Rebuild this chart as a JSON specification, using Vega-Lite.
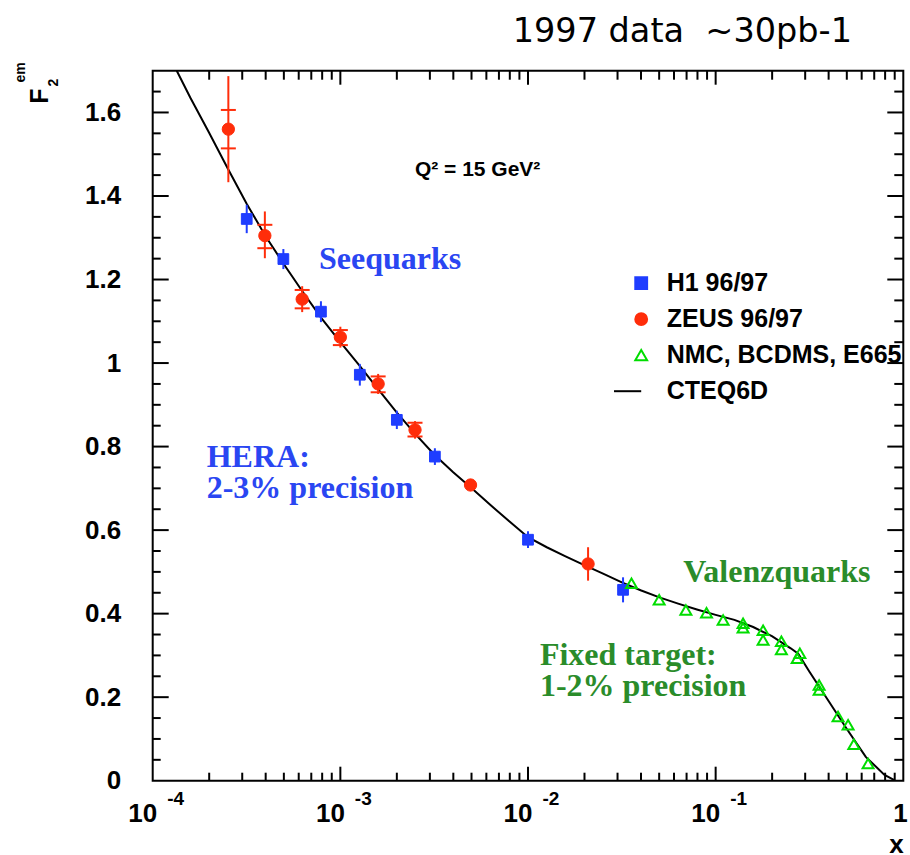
{
  "$schema": "https://vega.github.io/schema/vega-lite/v6.json",
  "width": 750.6,
  "height": 710,
  "autosize": {"type": "none"},
  "padding": {"left": 152.7, "top": 70.7, "right": 6.7, "bottom": 74.3},
  "background": "white",
  "title": {
    "text": "1997 data\u00a0 ~30pb-1",
    "anchor": "start",
    "frame": "group",
    "dx": 360,
    "offset": 12,
    "font": "DejaVu Sans",
    "fontSize": 33.5,
    "fontWeight": "normal",
    "color": "black"
  },
  "datasets": {
    "xticks": [
      {"x": 0.0002, "kind": "minor"}, {"x": 0.0003, "kind": "minor"}, {"x": 0.0004, "kind": "minor"},
      {"x": 0.0005, "kind": "minor"}, {"x": 0.0006, "kind": "minor"}, {"x": 0.0007, "kind": "minor"},
      {"x": 0.0008, "kind": "minor"}, {"x": 0.0009, "kind": "minor"}, {"x": 0.001, "kind": "major"},
      {"x": 0.002, "kind": "minor"}, {"x": 0.003, "kind": "minor"}, {"x": 0.004, "kind": "minor"},
      {"x": 0.005, "kind": "minor"}, {"x": 0.006, "kind": "minor"}, {"x": 0.007, "kind": "minor"},
      {"x": 0.008, "kind": "minor"}, {"x": 0.009, "kind": "minor"}, {"x": 0.01, "kind": "major"},
      {"x": 0.02, "kind": "minor"}, {"x": 0.03, "kind": "minor"}, {"x": 0.04, "kind": "minor"},
      {"x": 0.05, "kind": "minor"}, {"x": 0.06, "kind": "minor"}, {"x": 0.07, "kind": "minor"},
      {"x": 0.08, "kind": "minor"}, {"x": 0.09, "kind": "minor"}, {"x": 0.1, "kind": "major"},
      {"x": 0.2, "kind": "minor"}, {"x": 0.3, "kind": "minor"}, {"x": 0.4, "kind": "minor"},
      {"x": 0.5, "kind": "minor"}, {"x": 0.6, "kind": "minor"}, {"x": 0.7, "kind": "minor"},
      {"x": 0.8, "kind": "minor"}, {"x": 0.9, "kind": "minor"}
    ],
    "yticks": [
      {"f2": 0.05, "kind": "minor"}, {"f2": 0.1, "kind": "minor"}, {"f2": 0.15, "kind": "minor"}, {"f2": 0.2, "kind": "major"},
      {"f2": 0.25, "kind": "minor"}, {"f2": 0.3, "kind": "minor"}, {"f2": 0.35, "kind": "minor"}, {"f2": 0.4, "kind": "major"},
      {"f2": 0.45, "kind": "minor"}, {"f2": 0.5, "kind": "minor"}, {"f2": 0.55, "kind": "minor"}, {"f2": 0.6, "kind": "major"},
      {"f2": 0.65, "kind": "minor"}, {"f2": 0.7, "kind": "minor"}, {"f2": 0.75, "kind": "minor"}, {"f2": 0.8, "kind": "major"},
      {"f2": 0.85, "kind": "minor"}, {"f2": 0.9, "kind": "minor"}, {"f2": 0.95, "kind": "minor"}, {"f2": 1.0, "kind": "major"},
      {"f2": 1.05, "kind": "minor"}, {"f2": 1.1, "kind": "minor"}, {"f2": 1.15, "kind": "minor"}, {"f2": 1.2, "kind": "major"},
      {"f2": 1.25, "kind": "minor"}, {"f2": 1.3, "kind": "minor"}, {"f2": 1.35, "kind": "minor"}, {"f2": 1.4, "kind": "major"},
      {"f2": 1.45, "kind": "minor"}, {"f2": 1.5, "kind": "minor"}, {"f2": 1.55, "kind": "minor"}, {"f2": 1.6, "kind": "major"},
      {"f2": 1.65, "kind": "minor"}
    ],
    "cteq": [
      {"x": 0.0001343, "f2": 1.700},
      {"x": 0.0001585, "f2": 1.636},
      {"x": 0.0001995, "f2": 1.552},
      {"x": 0.0002512, "f2": 1.466},
      {"x": 0.0003162, "f2": 1.382},
      {"x": 0.0003981, "f2": 1.305},
      {"x": 0.0005012, "f2": 1.236},
      {"x": 0.000631, "f2": 1.170},
      {"x": 0.0007943, "f2": 1.107},
      {"x": 0.001, "f2": 1.050},
      {"x": 0.001259, "f2": 0.995},
      {"x": 0.001585, "f2": 0.938},
      {"x": 0.001995, "f2": 0.882},
      {"x": 0.002512, "f2": 0.830},
      {"x": 0.003162, "f2": 0.781},
      {"x": 0.003981, "f2": 0.739},
      {"x": 0.005012, "f2": 0.700},
      {"x": 0.00631, "f2": 0.660},
      {"x": 0.007943, "f2": 0.621},
      {"x": 0.01, "f2": 0.583},
      {"x": 0.01259, "f2": 0.559},
      {"x": 0.01585, "f2": 0.537},
      {"x": 0.01995, "f2": 0.516},
      {"x": 0.02512, "f2": 0.496},
      {"x": 0.03162, "f2": 0.475},
      {"x": 0.03981, "f2": 0.456},
      {"x": 0.05012, "f2": 0.439},
      {"x": 0.0631, "f2": 0.424},
      {"x": 0.07943, "f2": 0.410},
      {"x": 0.1, "f2": 0.397},
      {"x": 0.1259, "f2": 0.385},
      {"x": 0.1585, "f2": 0.368},
      {"x": 0.1995, "f2": 0.346},
      {"x": 0.2512, "f2": 0.317},
      {"x": 0.2754, "f2": 0.304},
      {"x": 0.3162, "f2": 0.261},
      {"x": 0.3981, "f2": 0.192},
      {"x": 0.5012, "f2": 0.123},
      {"x": 0.631, "f2": 0.057},
      {"x": 0.7943, "f2": 0.014},
      {"x": 0.891, "f2": 0.002}
    ],
    "h1": [
      {"x": 0.000317, "f2": 1.345, "lo": 1.311, "hi": 1.379},
      {"x": 0.000497, "f2": 1.249, "lo": 1.225, "hi": 1.273},
      {"x": 0.000788, "f2": 1.123, "lo": 1.098, "hi": 1.148},
      {"x": 0.00127, "f2": 0.972, "lo": 0.946, "hi": 0.998},
      {"x": 0.0020, "f2": 0.864, "lo": 0.842, "hi": 0.886},
      {"x": 0.00319, "f2": 0.776, "lo": 0.756, "hi": 0.796},
      {"x": 0.0100, "f2": 0.577, "lo": 0.557, "hi": 0.597},
      {"x": 0.0321, "f2": 0.457, "lo": 0.427, "hi": 0.487}
    ],
    "zeus": [
      {"x": 0.000253, "f2": 1.560, "lo": 1.433, "hi": 1.687, "statLo": 1.514, "statHi": 1.606},
      {"x": 0.000396, "f2": 1.305, "lo": 1.251, "hi": 1.363, "statLo": 1.275, "statHi": 1.331},
      {"x": 0.000626, "f2": 1.153, "lo": 1.122, "hi": 1.184, "statLo": 1.131, "statHi": 1.175},
      {"x": 0.0010, "f2": 1.062, "lo": 1.037, "hi": 1.087, "statLo": 1.043, "statHi": 1.079},
      {"x": 0.00159, "f2": 0.950, "lo": 0.926, "hi": 0.974, "statLo": 0.930, "statHi": 0.968},
      {"x": 0.0025, "f2": 0.840, "lo": 0.819, "hi": 0.861, "statLo": 0.824, "statHi": 0.857},
      {"x": 0.00494, "f2": 0.708, "lo": 0.696, "hi": 0.720},
      {"x": 0.0209, "f2": 0.519, "lo": 0.479, "hi": 0.559}
    ],
    "fixed": [
      {"x": 0.0356, "f2": 0.473},
      {"x": 0.050, "f2": 0.433},
      {"x": 0.0694, "f2": 0.409},
      {"x": 0.0894, "f2": 0.402},
      {"x": 0.1096, "f2": 0.385},
      {"x": 0.140, "f2": 0.377},
      {"x": 0.140, "f2": 0.366},
      {"x": 0.179, "f2": 0.360},
      {"x": 0.179, "f2": 0.337},
      {"x": 0.224, "f2": 0.334},
      {"x": 0.224, "f2": 0.314},
      {"x": 0.281, "f2": 0.305},
      {"x": 0.272, "f2": 0.293},
      {"x": 0.356, "f2": 0.229},
      {"x": 0.356, "f2": 0.217},
      {"x": 0.449, "f2": 0.154},
      {"x": 0.508, "f2": 0.134},
      {"x": 0.545, "f2": 0.087},
      {"x": 0.649, "f2": 0.041}
    ],
    "notes": [
      {"text": "Seequarks", "x": 0.000769, "f2": 1.225, "kind": "hera"},
      {"text": "HERA:", "x": 0.000194, "f2": 0.752, "kind": "hera"},
      {"text": "2-3% precision", "x": 0.000194, "f2": 0.677, "kind": "hera"},
      {"text": "Valenzquarks", "x": 0.0671, "f2": 0.4766, "kind": "fixed"},
      {"text": "Fixed target:", "x": 0.01157, "f2": 0.2771, "kind": "fixed"},
      {"text": "1-2% precision", "x": 0.01157, "f2": 0.2029, "kind": "fixed"},
      {"text": "Q² = 15 GeV²", "x": 0.002496, "f2": 1.4467, "kind": "scale"}
    ]
  },
  "resolve": {"axis": {"x": "independent", "y": "independent"}},
  "layer": [
    {
      "data": {"name": "cteq"},
      "mark": {"type": "line", "strokeWidth": 2, "clip": true},
      "encoding": {
        "x": {
          "field": "x", "type": "quantitative",
          "scale": {"type": "log", "domain": [0.0001, 1], "nice": false},
          "axis": {
            "orient": "bottom", "values": [0.0001, 0.001, 0.01, 0.1, 1],
            "labelExpr": "datum.value >= 1 ? '1' : '10'",
            "ticks": false, "labelAlign": "right", "labelOffset": 4, "labelBaseline": "top",
            "labelPadding": 20, "labelFontSize": 26, "labelFlush": false, "labelOverlap": false, "labelBound": false,
            "title": "x", "titleFontSize": 26, "titleX": 750.6, "titleY": 72,
            "titleAlign": "right", "titleBaseline": "alphabetic", "titleAngle": 0
          }
        },
        "y": {
          "field": "f2", "type": "quantitative",
          "scale": {"domain": [0, 1.7], "nice": false, "zero": false},
          "axis": {
            "orient": "left", "values": [0, 0.2, 0.4, 0.6, 0.8, 1, 1.2, 1.4, 1.6], "format": "~g",
            "ticks": false, "labelPadding": 32, "labelFontSize": 26, "labelBaseline": "middle",
            "labelFlush": false, "labelOverlap": false,
            "title": "F", "titleFontSize": 25, "titleAngle": 270, "titleX": -105.7, "titleY": 24.8,
            "titleAlign": "center", "titleBaseline": "alphabetic"
          }
        },
        "stroke": {
          "datum": "CTEQ6D", "type": "nominal",
          "scale": {
            "domain": ["H1 96/97", "ZEUS 96/97", "NMC, BCDMS, E665", "CTEQ6D"],
            "range": ["#1f3dff", "#ff2d0a", "#00dd00", "#000000"]
          },
          "legend": {"title": null}
        }
      }
    },
    {
      "data": {"name": "xticks"},
      "transform": [{"filter": "datum.kind === 'major'"}],
      "mark": {"type": "tick", "orient": "vertical", "color": "black", "size": 14, "thickness": 2, "opacity": 1},
      "encoding": {
        "x": {"field": "x", "type": "quantitative", "axis": null},
        "y": {"datum": 0.01677, "type": "quantitative", "axis": null}
      }
    },
    {
      "data": {"name": "xticks"},
      "transform": [{"filter": "datum.kind === 'minor'"}],
      "mark": {"type": "tick", "orient": "vertical", "color": "black", "size": 8, "thickness": 2, "opacity": 1},
      "encoding": {
        "x": {"field": "x", "type": "quantitative", "axis": null},
        "y": {"datum": 0.00958, "type": "quantitative", "axis": null}
      }
    },
    {
      "data": {"name": "xticks"},
      "transform": [{"filter": "datum.kind === 'major'"}],
      "mark": {"type": "tick", "orient": "vertical", "color": "black", "size": 14, "thickness": 2, "opacity": 1},
      "encoding": {
        "x": {"field": "x", "type": "quantitative", "axis": null},
        "y": {"datum": 1.68323, "type": "quantitative", "axis": null}
      }
    },
    {
      "data": {"name": "xticks"},
      "transform": [{"filter": "datum.kind === 'minor'"}],
      "mark": {"type": "tick", "orient": "vertical", "color": "black", "size": 9, "thickness": 2, "opacity": 1},
      "encoding": {
        "x": {"field": "x", "type": "quantitative", "axis": null},
        "y": {"datum": 1.68922, "type": "quantitative", "axis": null}
      }
    },
    {
      "data": {"name": "yticks"},
      "transform": [{"filter": "datum.kind === 'major'"}],
      "mark": {"type": "tick", "orient": "horizontal", "color": "black", "size": 16, "thickness": 2, "opacity": 1},
      "encoding": {
        "y": {"field": "f2", "type": "quantitative", "axis": null},
        "x": {"datum": 0.00011031, "type": "quantitative", "axis": null}
      }
    },
    {
      "data": {"name": "yticks"},
      "transform": [{"filter": "datum.kind === 'minor'"}],
      "mark": {"type": "tick", "orient": "horizontal", "color": "black", "size": 8, "thickness": 2, "opacity": 1},
      "encoding": {
        "y": {"field": "f2", "type": "quantitative", "axis": null},
        "x": {"datum": 0.00010503, "type": "quantitative", "axis": null}
      }
    },
    {
      "data": {"name": "yticks"},
      "transform": [{"filter": "datum.kind === 'major'"}],
      "mark": {"type": "tick", "orient": "horizontal", "color": "black", "size": 16, "thickness": 2, "opacity": 1},
      "encoding": {
        "y": {"field": "f2", "type": "quantitative", "axis": null},
        "x": {"datum": 0.9065, "type": "quantitative", "axis": null}
      }
    },
    {
      "data": {"name": "yticks"},
      "transform": [{"filter": "datum.kind === 'minor'"}],
      "mark": {"type": "tick", "orient": "horizontal", "color": "black", "size": 9, "thickness": 2, "opacity": 1},
      "encoding": {
        "y": {"field": "f2", "type": "quantitative", "axis": null},
        "x": {"datum": 0.9463, "type": "quantitative", "axis": null}
      }
    },
    {
      "data": {"name": "h1"},
      "mark": {"type": "rule", "color": "#1f3dff", "strokeWidth": 2},
      "encoding": {
        "x": {
          "field": "x", "type": "quantitative",
          "axis": {
            "orient": "bottom", "values": [0.0001, 0.001, 0.01, 0.1],
            "labelExpr": "'' + round(log(datum.value) / LN10)",
            "ticks": false, "labelAlign": "left", "labelOffset": 14, "labelBaseline": "middle",
            "labelPadding": 18, "labelFontSize": 19, "labelFlush": false, "labelOverlap": false, "labelBound": false,
            "title": null
          }
        },
        "y": {
          "field": "lo", "type": "quantitative",
          "axis": {
            "orient": "left", "values": [1.6],
            "labels": false, "ticks": false,
            "title": "2", "titleFontSize": 14, "titleAngle": 270, "titleX": -95.7, "titleY": 11.3,
            "titleAlign": "center", "titleBaseline": "alphabetic"
          }
        },
        "y2": {"field": "hi"}
      }
    },
    {
      "data": {"name": "zeus"},
      "mark": {"type": "rule", "color": "#ff2d0a", "strokeWidth": 2},
      "encoding": {
        "x": {"field": "x", "type": "quantitative", "axis": null},
        "y": {
          "field": "lo", "type": "quantitative",
          "axis": {
            "orient": "left", "values": [1.6],
            "labels": false, "ticks": false,
            "title": "em", "titleFontSize": 14, "titleAngle": 270, "titleX": -128.7, "titleY": 1.3,
            "titleAlign": "center", "titleBaseline": "alphabetic"
          }
        },
        "y2": {"field": "hi"}
      }
    },
    {
      "data": {"name": "zeus"},
      "mark": {"type": "tick", "orient": "horizontal", "color": "#ff2d0a", "size": 15, "thickness": 2, "opacity": 1},
      "encoding": {
        "x": {"field": "x", "type": "quantitative", "axis": null},
        "y": {"field": "statLo", "type": "quantitative", "axis": null}
      }
    },
    {
      "data": {"name": "zeus"},
      "mark": {"type": "tick", "orient": "horizontal", "color": "#ff2d0a", "size": 15, "thickness": 2, "opacity": 1},
      "encoding": {
        "x": {"field": "x", "type": "quantitative", "axis": null},
        "y": {"field": "statHi", "type": "quantitative", "axis": null}
      }
    },
    {
      "data": {"name": "h1"},
      "mark": {"type": "point", "size": 115, "strokeWidth": 1, "opacity": 1},
      "encoding": {
        "x": {"field": "x", "type": "quantitative", "axis": null},
        "y": {"field": "f2", "type": "quantitative", "axis": null},
        "fill": {
          "datum": "H1 96/97", "type": "nominal",
          "scale": {
            "domain": ["H1 96/97", "ZEUS 96/97", "NMC, BCDMS, E665", "CTEQ6D"],
            "range": ["#1f3dff", "#ff2d0a", "transparent", "transparent"]
          },
          "legend": {"title": null}
        },
        "stroke": {"datum": "H1 96/97", "type": "nominal", "legend": {"title": null}},
        "shape": {
          "datum": "H1 96/97", "type": "nominal",
          "scale": {
            "domain": ["H1 96/97", "ZEUS 96/97", "NMC, BCDMS, E665", "CTEQ6D"],
            "range": ["square", "circle", "triangle-up", "M-4.6,0L0,0"]
          },
          "legend": {"title": null}
        }
      }
    },
    {
      "data": {"name": "zeus"},
      "mark": {"type": "point", "size": 151, "strokeWidth": 1, "opacity": 1},
      "encoding": {
        "x": {"field": "x", "type": "quantitative", "axis": null},
        "y": {"field": "f2", "type": "quantitative", "axis": null},
        "fill": {"datum": "ZEUS 96/97", "type": "nominal", "legend": {"title": null}},
        "stroke": {"datum": "ZEUS 96/97", "type": "nominal", "legend": {"title": null}},
        "shape": {"datum": "ZEUS 96/97", "type": "nominal", "legend": {"title": null}}
      }
    },
    {
      "data": {"name": "fixed"},
      "mark": {"type": "point", "size": 120, "strokeWidth": 2, "opacity": 1},
      "encoding": {
        "x": {"field": "x", "type": "quantitative", "axis": null},
        "y": {"field": "f2", "type": "quantitative", "axis": null},
        "fill": {"datum": "NMC, BCDMS, E665", "type": "nominal", "legend": {"title": null}},
        "stroke": {"datum": "NMC, BCDMS, E665", "type": "nominal", "legend": {"title": null}},
        "shape": {"datum": "NMC, BCDMS, E665", "type": "nominal", "legend": {"title": null}}
      }
    },
    {
      "data": {"name": "notes"},
      "transform": [{"filter": "datum.kind === 'hera'"}],
      "mark": {"type": "text", "align": "left", "baseline": "alphabetic", "font": "Liberation Serif", "fontWeight": "bold", "fontSize": 32, "color": "#2a46f2"},
      "encoding": {
        "x": {"field": "x", "type": "quantitative", "axis": null},
        "y": {"field": "f2", "type": "quantitative", "axis": null},
        "text": {"field": "text"}
      }
    },
    {
      "data": {"name": "notes"},
      "transform": [{"filter": "datum.kind === 'fixed'"}],
      "mark": {"type": "text", "align": "left", "baseline": "alphabetic", "font": "Liberation Serif", "fontWeight": "bold", "fontSize": 32, "color": "#2a8c2a"},
      "encoding": {
        "x": {"field": "x", "type": "quantitative", "axis": null},
        "y": {"field": "f2", "type": "quantitative", "axis": null},
        "text": {"field": "text"}
      }
    },
    {
      "data": {"name": "notes"},
      "transform": [{"filter": "datum.kind === 'scale'"}],
      "mark": {"type": "text", "align": "left", "baseline": "alphabetic", "font": "Liberation Sans", "fontWeight": "bold", "fontSize": 21, "color": "black"},
      "encoding": {
        "x": {"field": "x", "type": "quantitative", "axis": null},
        "y": {"field": "f2", "type": "quantitative", "axis": null},
        "text": {"field": "text"}
      }
    }
  ],
  "config": {
    "view": {"stroke": "black", "strokeWidth": 2},
    "axis": {
      "grid": false, "domain": false,
      "labelFont": "Liberation Sans", "labelFontWeight": "bold", "labelColor": "black",
      "tickColor": "black",
      "titleFont": "Liberation Sans", "titleFontWeight": "bold", "titleColor": "black"
    },
    "legend": {
      "orient": "none", "legendX": 476, "legendY": 200,
      "padding": 0, "rowPadding": 10, "labelOffset": 13,
      "labelFont": "Liberation Sans", "labelFontWeight": "bold", "labelFontSize": 25, "labelColor": "black",
      "symbolSize": 140, "symbolStrokeWidth": 2, "symbolOpacity": 1,
      "symbolStrokeColor": "black", "symbolFillColor": "transparent", "labelLimit": 400
    }
  }
}
